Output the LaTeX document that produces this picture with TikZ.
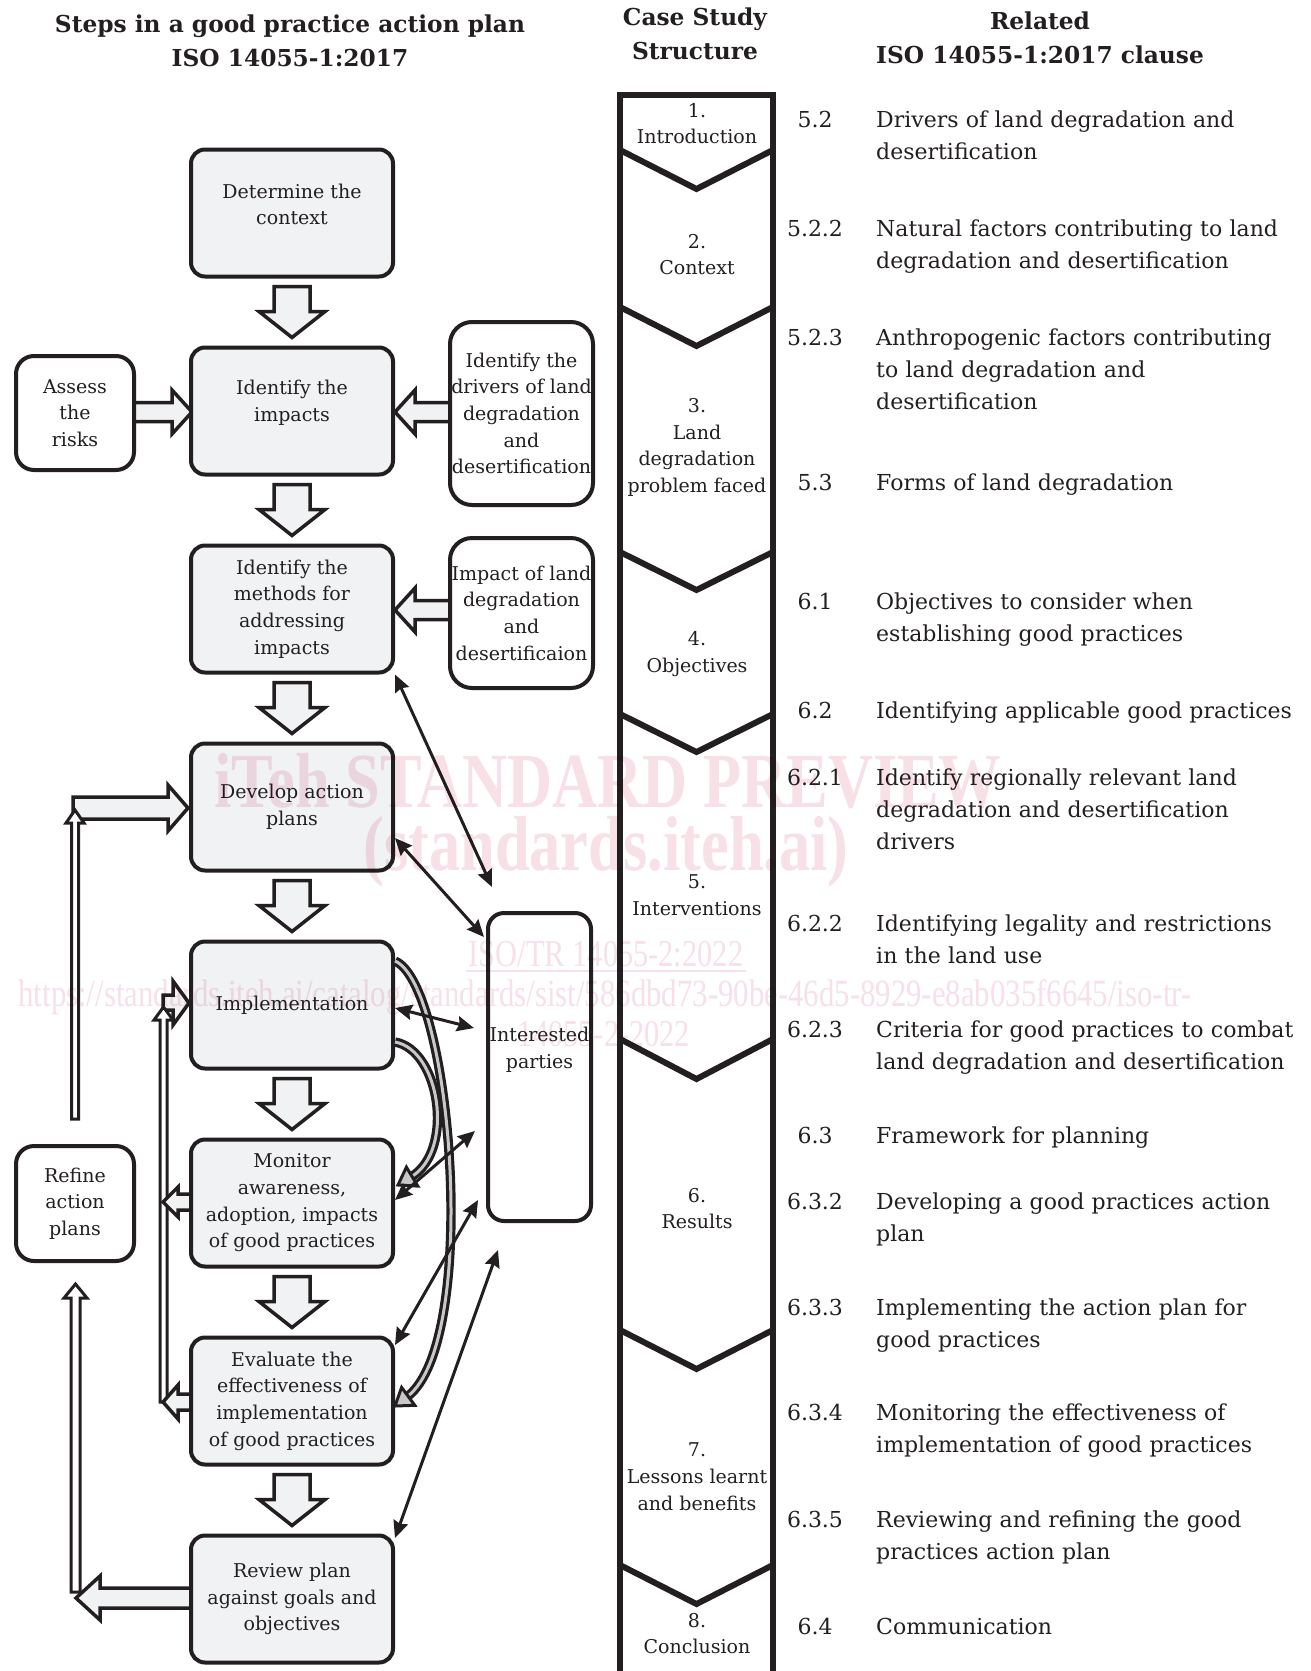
\documentclass[tikz,border=0pt]{standalone}
\usepackage{fontspec}
\setmainfont{DejaVu Serif}
\newfontfamily\wmfont{Liberation Serif}
\usetikzlibrary{arrows.meta,calc}
\definecolor{ink}{RGB}{35,31,32}
\definecolor{boxfill}{RGB}{241,242,244}
\definecolor{curvefill}{RGB}{200,200,200}
\definecolor{wmpink}{RGB}{248,224,231}
\tikzset{
  bx/.style={font=\fontsize{19}{26.7}\selectfont, align=center, inner sep=0pt, text=ink},
  stepbox/.style={bx, draw=ink, line width=4pt, rounded corners=14pt, fill=boxfill, minimum width=202pt, minimum height=127pt},
  sidebox/.style={bx, draw=ink, line width=4pt, rounded corners=22pt, fill=white},
  blk/.style={draw=ink, line width=3.5pt, fill=boxfill, line join=miter},
  chan/.style={draw=ink, line width=3pt, fill=white, line join=miter},
  dbl/.style={draw=ink, line width=3pt, {Stealth[length=17pt,width=15pt,inset=2pt]}-{Stealth[length=17pt,width=15pt,inset=2pt]}},
  hdr/.style={font=\bfseries\fontsize{23.3}{34}\selectfont, align=center, inner sep=0pt, text=ink},
  cl/.style={font=\fontsize{22}{32}\selectfont, anchor=base west, align=left, text width=440pt, inner sep=0pt, text=ink},
  cn/.style={font=\fontsize{22}{32}\selectfont, anchor=base, inner sep=0pt, text=ink},
  wm/.style={text=wmpink, inner sep=0pt, xscale=0.8},
  crv/.style={draw=ink, line width=3.2pt, double=curvefill, double distance=3pt},
  crvhead/.style={draw=ink, line width=3pt, fill=curvefill, line join=miter}
}
\newcommand\dnarr[2]{\draw[blk] (#1-18,#2) -- (#1+18,#2) -- (#1+18,#2+25) -- (#1+33,#2+25) -- (#1,#2+51) -- (#1-33,#2+25) -- (#1-18,#2+25) -- cycle;}
\begin{document}
\begin{tikzpicture}[x=1pt,y=-1pt]
\useasboundingbox (0,0) rectangle (1310,1671);
\fill[white] (0,0) rectangle (1310,1671);

% ---------- headers
\node[hdr] (h1) at (290,40.5) {Steps in a good practice action plan\\ISO 14055-1:2017};
\node[hdr] (h2) at (695,34) {Case Study\\Structure};
\node[hdr] (h3) at (1040,38) {Related\\ISO 14055-1:2017 clause};

% ---------- block arrows (drawn first, under the boxes)
\foreach \t in {286.5,484.5,682.5,880.5,1078.5,1276.5,1474.5} {\dnarr{292}{\t}}
\draw[blk] (449,402.5) -- (415,402.5) -- (415,390) -- (395,412) -- (415,434) -- (415,421.5) -- (449,421.5);
\draw[blk] (134,402.5) -- (172,402.5) -- (172,390) -- (192,412) -- (172,434) -- (172,421.5) -- (134,421.5);
\draw[blk] (449,600.5) -- (415,600.5) -- (415,588) -- (395,610) -- (415,632) -- (415,619.5) -- (449,619.5);

% refine -> develop feedback
\draw[blk] (73,797) -- (168,797) -- (168,785) -- (188,808) -- (168,831) -- (168,819) -- (73,819) -- cycle;
\draw[chan] (71.5,1119) -- (71.5,823) -- (66,823) -- (75,810) -- (84,823) -- (78.5,823) -- (78.5,1119) -- cycle;
% review -> refine feedback
\draw[chan] (71,1592) -- (71,1298) -- (64,1298) -- (75.5,1284) -- (87,1298) -- (80,1298) -- (80,1592) -- cycle;
\draw[blk] (190,1588) -- (100,1588) -- (100,1576) -- (76,1598) -- (100,1620) -- (100,1608) -- (190,1608);
% monitor / evaluate -> implementation channel
\draw[blk] (163,995) -- (173,995) -- (173,981) -- (189,1003) -- (173,1025) -- (173,1010) -- (163,1010) -- cycle;
\draw[chan] (160,1402) -- (160,1020) -- (154,1020) -- (163.5,1007) -- (173,1020) -- (167,1020) -- (167,1402) -- cycle;
\draw[blk] (190,1194) -- (178,1194) -- (178,1187) -- (163,1202) -- (178,1217) -- (178,1210) -- (190,1210);
\draw[blk] (190,1394) -- (178,1394) -- (178,1385) -- (163,1402) -- (178,1419) -- (178,1410) -- (190,1410);

% ---------- step boxes
\node[stepbox] (det) at (292,213) {};
\node[bx] (dett) at (292,204.5) {Determine the\\context};
\node[stepbox] (imp) at (292,411) {};
\node[bx] (impt) at (292,402.5) {Identify the\\impacts};
\node[stepbox] (meth) at (292,609) {Identify the\\methods for\\addressing\\impacts};
\node[stepbox] (dev) at (292,807) {Develop action\\plans};
\node[stepbox] (impl) at (292,1005) {Implementation};
\node[stepbox] (mon) at (292,1203) {Monitor\\awareness,\\adoption, impacts\\of good practices};
\node[stepbox] (eval) at (292,1401) {Evaluate the\\effectiveness of\\implementation\\of good practices};
\node[stepbox] (rev) at (292,1599) {Review plan\\against goals and\\objectives};

% ---------- side boxes
\node[sidebox, rounded corners=18pt, minimum width=118pt, minimum height=114pt] (ass) at (75,413) {Assess\\the\\risks};
\node[sidebox, minimum width=143pt, minimum height=183pt] (drv) at (521.5,413.5) {Identify the\\drivers of land\\degradation\\and\\desertification};
\node[sidebox, minimum width=143pt, minimum height=150pt] (ild) at (521.5,613) {Impact of land\\degradation\\and\\desertificaion};
\node[sidebox, rounded corners=18pt, minimum width=118pt, minimum height=115pt] (ref) at (75,1203.5) {Refine\\action\\plans};
\node[sidebox, rounded corners=16pt, minimum width=103pt, minimum height=308pt] (ip) at (539.5,1067) {};
\node[bx] (iptxt) at (539.5,1050) {Interested\\parties};

% ---------- curved hollow arrows from implementation
\draw[crv] ($(impl.east)+(0,-44)$) .. controls (452,985) and (480,1340) .. (407.7,1396.3);
\draw[crvhead] (395,1406) -- (414.8,1405.3) -- (401.6,1387.4) -- cycle;
\draw[crv] ($(impl.east)+(0,37)$) .. controls (440,1050) and (455,1150) .. (411.6,1176.6);
\draw[crvhead] (398,1185) -- (417.8,1186.1) -- (406.4,1167.1) -- cycle;

% ---------- links with interested parties
\coordinate (p1) at (492,887);
\coordinate (p2) at (484,937);
\coordinate (p3) at (474,1028);
\coordinate (p4) at (475,1131);
\coordinate (p5) at (478,1200);
\coordinate (p6) at (498,1250);
\draw[dbl] (meth.south east) -- (p1);
\draw[dbl] ($(dev.east)+(0,31)$) -- (p2);
\draw[dbl] ($(impl.east)+(0,3)$) -- (p3);
\draw[dbl] ($(mon.east)+(0,-3)$) -- (p4);
\draw[dbl] ($(eval.east)+(0,-56)$) -- (p5);
\draw[dbl] ($(rev.east)+(0,-61)$) -- (p6);

% ---------- case study column
\draw[draw=ink, line width=6pt, line join=miter] (620,1671) -- (620,95) -- (773,95) -- (773,1671);
\foreach \s/\t in {150/189,307/346,552/590,714/752,1039/1079,1330/1369,1565/1604}
  {\draw[draw=ink, line width=6pt, line join=miter] (620,\s) -- (696.5,\t) -- (773,\s);}
\node[bx] (cs1) at (697,123.5) {1.\\Introduction};
\node[bx] (cs2) at (697,254.5) {2.\\Context};
\node[bx] (cs3) at (697,447.5) {3.\\Land\\degradation\\problem faced};
\node[bx] (cs4) at (697,654) {4.\\Objectives};
\node[bx] (cs5) at (697,895) {5.\\Interventions};
\node[bx] (cs6) at (697,1208.5) {6.\\Results};
\node[bx] (cs7) at (697,1476.5) {7.\\Lessons learnt\\and benefits};
\node[bx] (cs8) at (697,1633.5) {8.\\Conclusion};

% ---------- related clauses
\node[cn] (n1) at (815,127.5) {5.2};
\node[cl] (t1) at (876,127.5) {Drivers of land degradation and\\desertification};
\node[cn] (n2) at (815,236) {5.2.2};
\node[cl] (t2) at (876,236) {Natural factors contributing to land\\degradation and desertification};
\node[cn] (n3) at (815,345) {5.2.3};
\node[cl] (t3) at (876,345) {Anthropogenic factors contributing\\to land degradation and\\desertification};
\node[cn] (n4) at (815,490) {5.3};
\node[cl] (t4) at (876,490) {Forms of land degradation};
\node[cn] (n5) at (815,609) {6.1};
\node[cl] (t5) at (876,609) {Objectives to consider when\\establishing good practices};
\node[cn] (n6) at (815,718) {6.2};
\node[cl] (t6) at (876,718) {Identifying applicable good practices};
\node[cn] (n7) at (815,785) {6.2.1};
\node[cl] (t7) at (876,785) {Identify regionally relevant land\\degradation and desertification\\drivers};
\node[cn] (n8) at (815,931) {6.2.2};
\node[cl] (t8) at (876,931) {Identifying legality and restrictions\\in the land use};
\node[cn] (n9) at (815,1037) {6.2.3};
\node[cl] (t9) at (876,1037) {Criteria for good practices to combat\\land degradation and desertification};
\node[cn] (n10) at (815,1143) {6.3};
\node[cl] (t10) at (876,1143) {Framework for planning};
\node[cn] (n11) at (815,1209) {6.3.2};
\node[cl] (t11) at (876,1209) {Developing a good practices action\\plan};
\node[cn] (n12) at (815,1315) {6.3.3};
\node[cl] (t12) at (876,1315) {Implementing the action plan for\\good practices};
\node[cn] (n13) at (815,1420) {6.3.4};
\node[cl] (t13) at (876,1420) {Monitoring the effectiveness of\\implementation of good practices};
\node[cn] (n14) at (815,1527) {6.3.5};
\node[cl] (t14) at (876,1527) {Reviewing and refining the good\\practices action plan};
\node[cn] (n15) at (815,1634) {6.4};
\node[cl] (t15) at (876,1634) {Communication};

% ---------- watermark
\begin{scope}[blend mode=multiply]
\node[wm, font=\wmfont\bfseries\fontsize{78}{78}\selectfont] (w1) at (608,781) {iTeh STANDARD PREVIEW};
\node[wm, font=\wmfont\bfseries\fontsize{78}{78}\selectfont] (w2) at (606,852) {(standards.iteh.ai)};
\node[wm, font=\wmfont\fontsize{38}{38}\selectfont] (w3) at (606,954) {ISO/TR 14055-2:2022};
\draw[wmpink, line width=2pt] (466,971) -- (746,971);
\node[wm, font=\wmfont\fontsize{38.5}{38.5}\selectfont] (w4) at (605,997) {https://standards.iteh.ai/catalog/standards/sist/586dbd73-90be-46d5-8929-e8ab035f6645/iso-tr-};
\node[wm, font=\wmfont\fontsize{38}{38}\selectfont] (w5) at (604,1034) {14055-2-2022};
\end{scope}
\end{tikzpicture}
\end{document}
